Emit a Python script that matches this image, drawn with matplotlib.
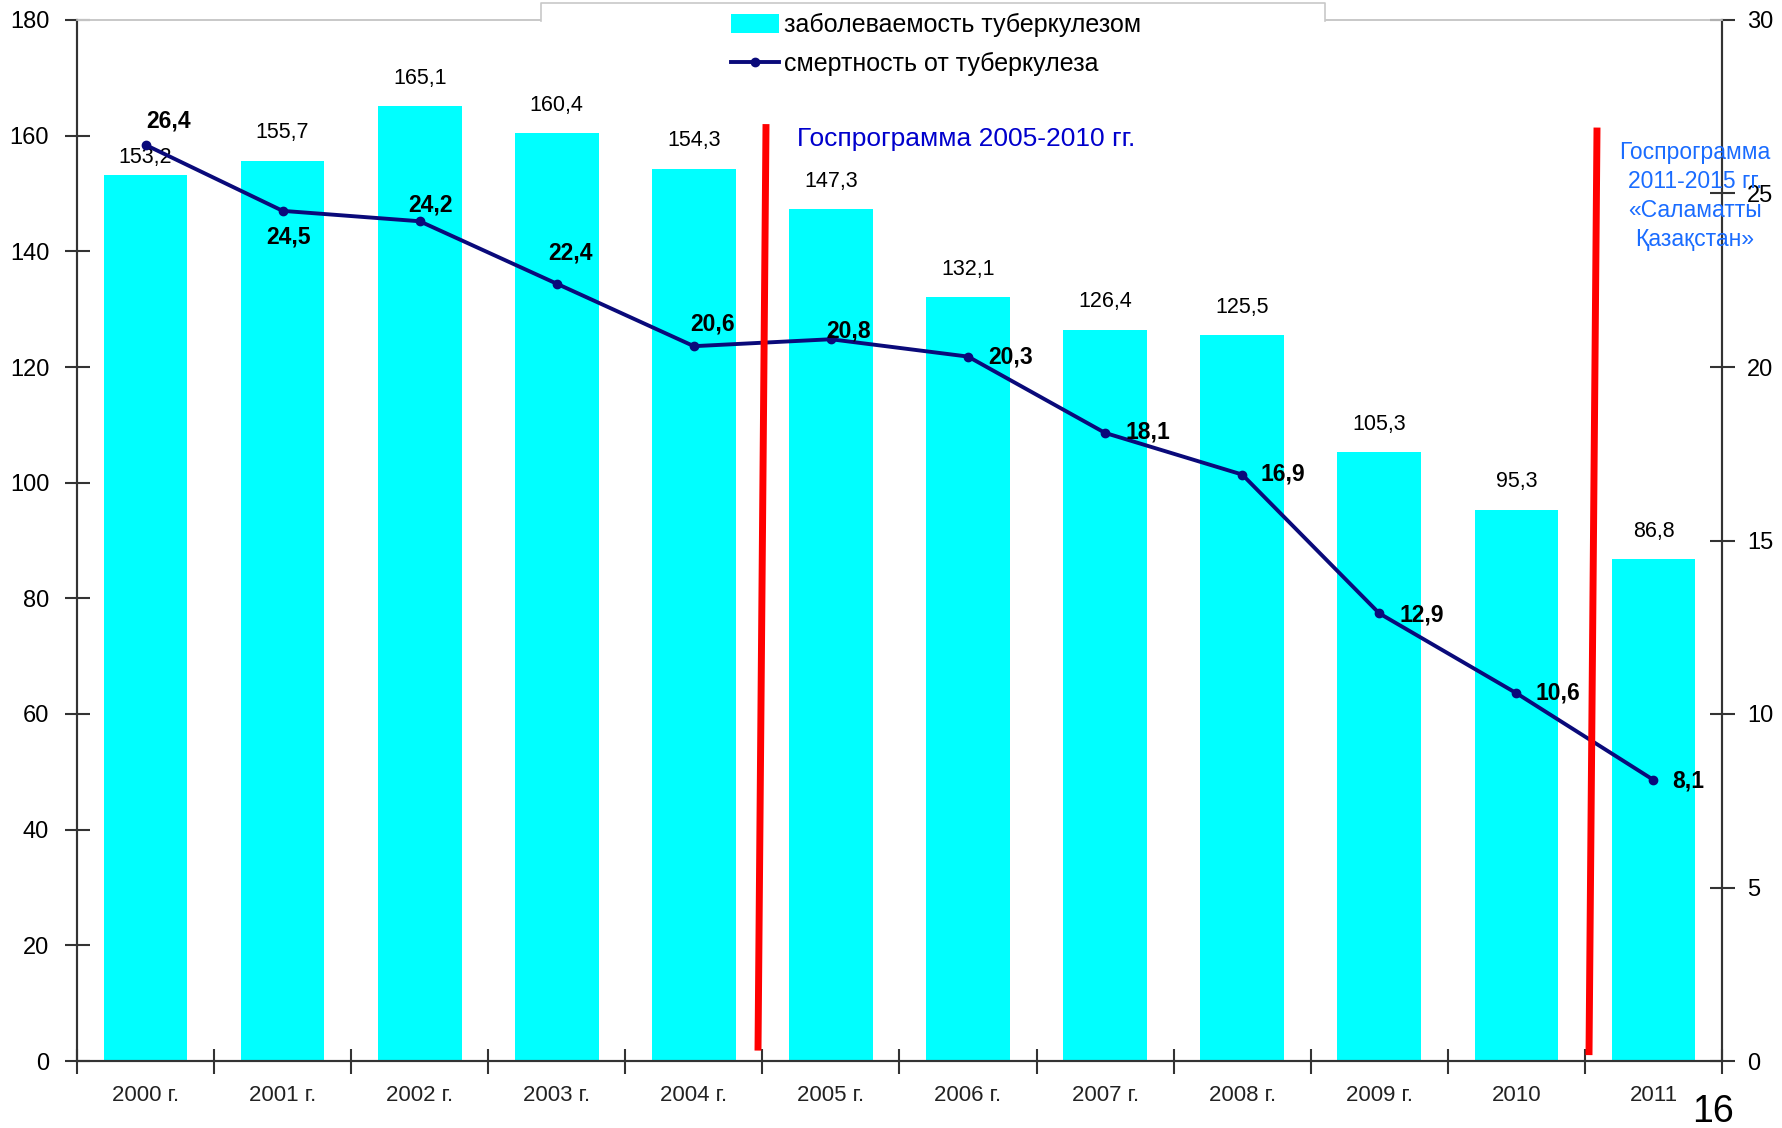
import matplotlib
matplotlib.use("Agg")
import matplotlib.pyplot as plt
from matplotlib.patches import Patch, Rectangle
from matplotlib.lines import Line2D

"""Data"""
years = ['2000 г.', '2001 г.', '2002 г.', '2003 г.', '2004 г.', '2005 г.',
         '2006 г.', '2007 г.', '2008 г.', '2009 г.', '2010', '2011']
incidence = [153.2, 155.7, 165.1, 160.4, 154.3, 147.3, 132.1, 126.4, 125.5, 105.3, 95.3, 86.8]
mortality = [26.4, 24.5, 24.2, 22.4, 20.6, 20.8, 20.3, 18.1, 16.9, 12.9, 10.6, 8.1]

label_inc = 'заболеваемость туберкулезом'
label_mort = 'смертность от туберкулеза'
prog1 = 'Госпрограмма 2005-2010 гг.'
prog2 = 'Госпрограмма\n2011-2015 гг.\n«Саламатты\nҚазақстан»'

# label offsets in pixels (dx, dy) for the mortality values
mort_offsets = [(23, 24), (6, -26), (11, 16), (14, 31), (19, 22), (18, 8),
                (43, 0), (43, 1), (41, 1), (42, -2), (42, 0), (35, -1)]
inc_offsets = [17] + [28] * 11

def fmt(v):
    return f"{v:.1f}".replace('.', ',')

W, H = 1783, 1128
fig = plt.figure(figsize=(W / 100, H / 100), dpi=100)
L, R, T, B = 77, 1722, 20, 1061
ax = fig.add_axes([L / W, 1 - B / H, (R - L) / W, (B - T) / H])
ax2 = ax.twinx()

sans = ['Liberation Sans', 'DejaVu Sans']

x = list(range(len(years)))
ax.bar(x, incidence, width=0.61, color='#00FFFF', zorder=2)
ax.set_xlim(-0.5, len(years) - 0.5)
ax.set_ylim(0, 180)
ax.set_yticks(range(0, 181, 20))
ax2.set_ylim(0, 30)
ax2.set_yticks(range(0, 31, 5))

for i, v in enumerate(incidence):
    ax.annotate(fmt(v), (i, v), xytext=(0, inc_offsets[i]), textcoords='offset pixels',
                ha='center', va='center', fontsize=15.5, family=sans, color='black')

ax2.plot(x, mortality, color='#0A0A7A', linewidth=2.8, marker='o', markersize=6, zorder=3)
for i, v in enumerate(mortality):
    dx, dy = mort_offsets[i]
    ax2.annotate(fmt(v), (i, v), xytext=(dx, dy), textcoords='offset pixels',
                 ha='center', va='center', fontsize=16.5, fontweight='bold', family=sans, color='black')

# red program boundaries
ax2.plot([4.526, 4.468], [26.9, 0.4], color='#FF0000', linewidth=5, zorder=5, clip_on=False)
ax2.plot([10.588, 10.530], [26.8, 0.27], color='#FF0000', linewidth=5, zorder=5, clip_on=False)

fig.text(797 / W, 1 - 139 / H, prog1, fontsize=19, color='#0000CC', family=sans,
         ha='left', va='center')
fig.text(1695 / W, 1 - 196 / H, prog2, fontsize=16.5, color='#1A6CFF', family=sans,
         ha='center', va='center', linespacing=1.33, zorder=6)

# axes styling
for a in (ax, ax2):
    for s in ('left', 'right', 'bottom'):
        a.spines[s].set_color('#333333')
        a.spines[s].set_linewidth(1.5)
    a.spines['top'].set_color('#C8C8C8')
    a.spines['top'].set_linewidth(1.2)

ax.tick_params(axis='y', direction='inout', length=18, width=1.5, pad=11,
               labelsize=17, colors='#333333', labelcolor='black')
ax2.tick_params(axis='y', direction='inout', length=18, width=1.5, pad=9,
                labelsize=17, colors='#333333', labelcolor='black')
for lab in ax.get_yticklabels() + ax2.get_yticklabels():
    lab.set_family(sans)

ax.set_xticks(x)
ax.set_xticklabels(years, family=sans, fontsize=16, color='#222222')
ax.set_xticks([i - 0.5 for i in range(len(years) + 1)], minor=True)
ax.tick_params(axis='x', which='major', length=0, pad=17)
ax.tick_params(axis='x', which='minor', direction='inout', length=18, width=1.5, color='#333333')

# legend box at the top
fig.patches.append(Rectangle((541 / W, 1 - 21 / H), (1325 - 541) / W, 18 / H,
                             transform=fig.transFigure, facecolor='white', edgecolor='none',
                             zorder=7))
fig.lines.append(Line2D([541 / W, 541 / W, 1325 / W, 1325 / W],
                        [1 - 21 / H, 1 - 3 / H, 1 - 3 / H, 1 - 21 / H],
                        transform=fig.transFigure, color='#C8C8C8', linewidth=1.2, zorder=8))

handles = [Patch(facecolor='#00FFFF', edgecolor='none'),
           Line2D([], [], color='#0A0A7A', linewidth=2.8, marker='o', markersize=6)]
leg = fig.legend(handles, [label_inc, label_mort], loc='upper left',
                 bbox_to_anchor=(731 / W, 1 - 13 / H), frameon=False,
                 borderpad=0, borderaxespad=0, handlelength=1.9, handleheight=0.8,
                 handletextpad=0.2, labelspacing=0.6, prop={'family': sans, 'size': 18})
leg.set_zorder(9)

fig.text(1713 / W, 1 - 1112 / H, '16', fontsize=27, family=sans, ha='center', va='center')

fig.savefig('out.png', dpi=100)
